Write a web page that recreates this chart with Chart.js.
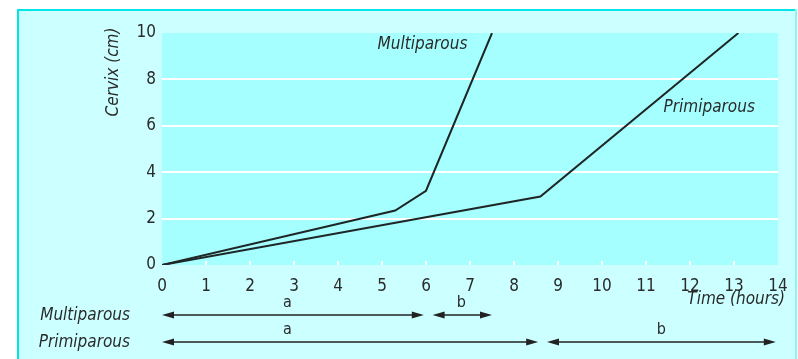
<!DOCTYPE html>
<html>
<head>
<meta charset="utf-8">
<script src="https://cdn.jsdelivr.net/npm/chart.js@4.4.1/dist/chart.umd.min.js"></script>
<style>
  body { margin: 0; background: #ffffff; }
  #wrap { width: 798px; height: 359px; }
</style>
</head>
<body>
<div id="wrap"><canvas id="labourChart" width="798" height="359"></canvas></div>
<script>
// cervical dilatation vs time
const hoursMulti = [0, 5.3, 6.0, 7.5];
const cervixMulti = [0, 2.35, 3.2, 10];
const hoursPrimi = [0, 8.6, 13.1];
const cervixPrimi = [0, 2.95, 10];

const xTicks = [0, 1, 2, 3, 4, 5, 6, 7, 8, 9, 10, 11, 12, 13, 14];
const yTicks = [0, 2, 4, 6, 8, 10];

// phases a / b shown as arrows under the axis (start hour, end hour, label hour)
const phaseNames = ["a", "b"];
const multiPhaseStart = [0, 6.15];
const multiPhaseEnd = [5.95, 7.5];
const multiPhaseLabel = [2.85, 6.8];
const primiPhaseStart = [0, 8.75];
const primiPhaseEnd = [8.55, 13.95];
const primiPhaseLabel = [2.85, 11.35];

const FONT = "'Liberation Sans Narrow', 'DejaVu Sans Condensed', 'Roboto Condensed', sans-serif";
const TEXT = "#2a2a2a";

function toPoints(xs, ys) {
  return xs.map((x, i) => ({ x: x, y: ys[i] }));
}

function drawArrow(ctx, x1, x2, y) {
  let head = 12;
  let half = 3.5;
  ctx.strokeStyle = "#222222";
  ctx.fillStyle = "#222222";
  ctx.lineWidth = 1.5;
  ctx.beginPath();
  ctx.moveTo(x1 + 4, y);
  ctx.lineTo(x2 - 4, y);
  ctx.stroke();
  ctx.beginPath();
  ctx.moveTo(x1, y);
  ctx.lineTo(x1 + head, y - half);
  ctx.lineTo(x1 + head, y + half);
  ctx.closePath();
  ctx.fill();
  ctx.beginPath();
  ctx.moveTo(x2, y);
  ctx.lineTo(x2 - head, y - half);
  ctx.lineTo(x2 - head, y + half);
  ctx.closePath();
  ctx.fill();
}

const backdrop = {
  id: "backdrop",
  beforeDraw(chart) {
    let ctx = chart.ctx;
    let area = chart.chartArea;
    ctx.save();
    // outer light panel with cyan edge
    ctx.fillStyle = "#ccffff";
    ctx.fillRect(17, 9, 780, 350);
    ctx.fillStyle = "#00e6e6";
    ctx.fillRect(17, 9, 780, 2);
    ctx.fillRect(17, 9, 2, 350);
    ctx.fillStyle = "#8ff4f4";
    ctx.fillRect(795, 9, 2, 350);
    // plot area
    ctx.fillStyle = "#a6ffff";
    ctx.fillRect(area.left, area.top, area.right - area.left, area.bottom - area.top);
    ctx.restore();
  },
  beforeDatasetsDraw(chart) {
    let ctx = chart.ctx;
    let xs = chart.scales.x;
    let bottom = chart.chartArea.bottom;
    ctx.save();
    // little white tick marks inside the plot
    ctx.strokeStyle = "#ffffff";
    ctx.lineWidth = 2;
    xTicks.slice(1, -1).forEach((t) => {
      let px = xs.getPixelForValue(t);
      ctx.beginPath();
      ctx.moveTo(px, bottom);
      ctx.lineTo(px, bottom - 4);
      ctx.stroke();
    });
    ctx.restore();
  },
  afterDraw(chart) {
    let ctx = chart.ctx;
    let xs = chart.scales.x;
    let ys = chart.scales.y;
    ctx.save();
    ctx.fillStyle = TEXT;
    ctx.font = "italic 17px " + FONT;
    ctx.textBaseline = "middle";

    // curve labels
    ctx.textAlign = "left";
    ctx.fillText("Multiparous", xs.getPixelForValue(4.9), ys.getPixelForValue(9.5));
    ctx.fillText("Primiparous", xs.getPixelForValue(11.4), ys.getPixelForValue(6.8));

    // axis titles
    ctx.textAlign = "right";
    ctx.fillText("Time (hours)", 785, 300);
    ctx.save();
    ctx.translate(114, 72);
    ctx.rotate(-Math.PI / 2);
    ctx.textAlign = "center";
    ctx.fillText("Cervix (cm)", 0, 0);
    ctx.restore();

    // phase rows
    ctx.textAlign = "right";
    ctx.fillText("Multiparous", 130, 316);
    ctx.fillText("Primiparous", 130, 343);

    ctx.font = "16px " + FONT;
    ctx.textAlign = "center";
    phaseNames.forEach((name, i) => {
      drawArrow(ctx, xs.getPixelForValue(multiPhaseStart[i]), xs.getPixelForValue(multiPhaseEnd[i]), 315);
      drawArrow(ctx, xs.getPixelForValue(primiPhaseStart[i]), xs.getPixelForValue(primiPhaseEnd[i]), 342);
      ctx.fillStyle = TEXT;
      ctx.fillText(name, xs.getPixelForValue(multiPhaseLabel[i]), 303);
      ctx.fillText(name, xs.getPixelForValue(primiPhaseLabel[i]), 330);
    });
    ctx.restore();
  },
};

let ctx = document.getElementById("labourChart").getContext("2d");
let chart1 = new Chart(ctx, {
  type: "scatter",
  data: {
    datasets: [
      {
        label: "Multiparous",
        data: toPoints(hoursMulti, cervixMulti),
        showLine: true,
        borderColor: "#1e2626",
        borderWidth: 2,
        pointRadius: 0,
        tension: 0,
      },
      {
        label: "Primiparous",
        data: toPoints(hoursPrimi, cervixPrimi),
        showLine: true,
        borderColor: "#1e2626",
        borderWidth: 2,
        pointRadius: 0,
        tension: 0,
      },
    ],
  },
  options: {
    responsive: false,
    animation: false,
    devicePixelRatio: 1,
    layout: { padding: { left: 0, right: 20, top: 33, bottom: 0 } },
    plugins: {
      legend: { display: false },
      tooltip: { enabled: false },
    },
    scales: {
      x: {
        type: "linear",
        min: 0,
        max: 14,
        afterBuildTicks: (scale) => {
          scale.ticks = xTicks.map((v) => ({ value: v }));
        },
        afterFit: (scale) => {
          scale.height = 94;
        },
        border: { display: false },
        grid: { display: false },
        ticks: {
          padding: 3,
          color: TEXT,
          font: { family: FONT, size: 17 },
        },
      },
      y: {
        min: 0,
        max: 10,
        afterBuildTicks: (scale) => {
          scale.ticks = yTicks.map((v) => ({ value: v }));
        },
        afterFit: (scale) => {
          scale.width = 162;
        },
        border: { display: false },
        grid: {
          drawTicks: false,
          lineWidth: 2,
          color: (c) => (c.tick.value === 0 || c.tick.value === 10 ? "rgba(0,0,0,0)" : "#ffffff"),
        },
        ticks: {
          padding: 6,
          color: TEXT,
          font: { family: FONT, size: 17 },
        },
      },
    },
  },
  plugins: [backdrop],
});
</script>
</body>
</html>
